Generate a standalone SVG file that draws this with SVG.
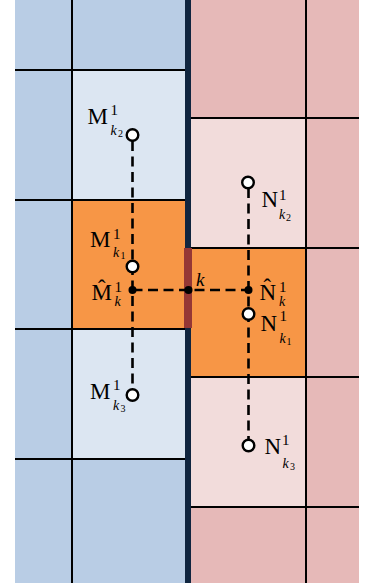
<svg xmlns="http://www.w3.org/2000/svg" width="367" height="588" viewBox="0 0 367 588">
<style>
.grid{stroke:#000;stroke-width:2;fill:none}
.dash{stroke:#000;stroke-width:2.6;stroke-dasharray:10,5.5;fill:none}
.open{fill:#fff;stroke:#000;stroke-width:2.4}
.dot{fill:#000}
.lbl{font-family:"Liberation Serif","Times New Roman",serif;fill:#000}
.big{font-size:23px}
.sup{font-size:15px}
.sub{font-size:14px;font-style:italic}
.ss{font-size:10px}
</style>
<rect width="367" height="588" fill="#fff"/>
<g id="left-region">
<rect x="15" y="0" width="171" height="583" fill="#b9cde5"/>
<rect x="72" y="70" width="114" height="130" fill="#dce6f2"/>
<rect x="72" y="200" width="114" height="129" fill="#f79646"/>
<rect x="72" y="329" width="114" height="130" fill="#dce6f2"/>
<path class="grid" d="M72 0V583M15 70H185M15 200H185M15 329H185M15 459H185"/>
</g>
<g id="right-region">
<rect x="190" y="0" width="169" height="583" fill="#e6b9b8"/>
<rect x="190" y="118" width="116" height="130" fill="#f2dcdb"/>
<rect x="190" y="248" width="116" height="129" fill="#f79646"/>
<rect x="190" y="377" width="116" height="130" fill="#f2dcdb"/>
<path class="grid" d="M306 0V583M191 118H359M191 248H359M191 377H359M191 507H359"/>
</g>
<g id="interface">
<rect x="185" y="0" width="6" height="583" fill="#10253f"/>
<rect x="184" y="248" width="8" height="80" fill="#953735"/>
</g>
<g id="connectors">
<path class="dash" d="M132.5 141V389"/>
<path class="dash" d="M132.5 290H248.5"/>
<path class="dash" d="M248.5 188V440"/>
</g>
<g id="node-Mk2">
<circle class="open" cx="132.5" cy="135" r="5.8"/>
<text class="lbl"><tspan class="big" x="87.5" y="124">M</tspan><tspan class="sup" x="110.5" y="115">1</tspan><tspan class="sub" x="110.5" y="135">k</tspan><tspan class="ss" x="118" y="137">2</tspan></text>
</g>
<g id="node-Mk1">
<circle class="open" cx="132.5" cy="266.5" r="5.8"/>
<text class="lbl"><tspan class="big" x="90" y="247">M</tspan><tspan class="sup" x="113" y="239">1</tspan><tspan class="sub" x="113" y="257">k</tspan><tspan class="ss" x="120.5" y="259">1</tspan></text>
</g>
<g id="node-Mhat">
<circle class="dot" cx="132.5" cy="290" r="4"/>
<text class="lbl"><tspan class="big" x="91.5" y="300">M̂</tspan><tspan class="sup" x="114.5" y="292">1</tspan><tspan class="sub" x="114.5" y="306">k</tspan></text>
</g>
<g id="node-k">
<circle class="dot" cx="188.5" cy="290" r="4"/>
<text class="lbl" x="196" y="286" font-size="19" font-style="italic">k</text>
</g>
<g id="node-Nhat">
<circle class="dot" cx="248.5" cy="290" r="4"/>
<text class="lbl"><tspan class="big" x="259.5" y="300">N̂</tspan><tspan class="sup" x="279" y="292">1</tspan><tspan class="sub" x="279" y="306">k</tspan></text>
</g>
<g id="node-Nk1">
<circle class="open" cx="248.5" cy="314" r="5.8"/>
<text class="lbl"><tspan class="big" x="260.5" y="331">N</tspan><tspan class="sup" x="279.5" y="321">1</tspan><tspan class="sub" x="279.5" y="343">k</tspan><tspan class="ss" x="286.5" y="345">1</tspan></text>
</g>
<g id="node-Nk2">
<circle class="open" cx="248" cy="182.5" r="5.8"/>
<text class="lbl"><tspan class="big" x="261.5" y="207">N</tspan><tspan class="sup" x="279" y="200">1</tspan><tspan class="sub" x="279" y="219">k</tspan><tspan class="ss" x="286" y="221">2</tspan></text>
</g>
<g id="node-Mk3">
<circle class="open" cx="132.5" cy="395" r="5.8"/>
<text class="lbl"><tspan class="big" x="90" y="399">M</tspan><tspan class="sup" x="113" y="390">1</tspan><tspan class="sub" x="113" y="410">k</tspan><tspan class="ss" x="120.5" y="412">3</tspan></text>
</g>
<g id="node-Nk3">
<circle class="open" cx="248.5" cy="445.5" r="5.8"/>
<text class="lbl"><tspan class="big" x="264.5" y="454">N</tspan><tspan class="sup" x="282" y="445">1</tspan><tspan class="sub" x="282.5" y="468">k</tspan><tspan class="ss" x="290" y="470">3</tspan></text>
</g>
</svg>
